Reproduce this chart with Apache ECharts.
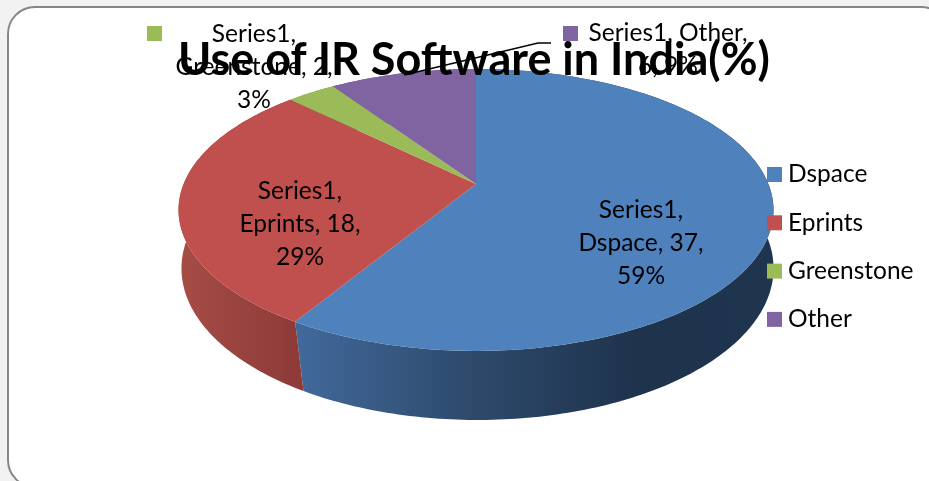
<!DOCTYPE html>
<html><head><meta charset="utf-8">
<style>html,body{margin:0;padding:0;background:#f2f2f2}#c{width:929px;height:481px}</style>
<script src="https://cdn.jsdelivr.net/npm/echarts@6/dist/echarts.min.js"></script>
</head><body><div id="c"></div>
<script>
const categories = ['Dspace', 'Eprints', 'Greenstone', 'Other'];
const values = [37, 18, 2, 6];
const percents = [59, 29, 3, 9];
const seriesName = 'Series1';
const colors = ['#4f81bd', '#c0504d', '#9bbb59', '#8064a2'];
const titleText = 'Use of IR Software in India(%)';

const FONT = 'Lato, "Open Sans", sans-serif';
const total = values.reduce((a, b) => a + b, 0);
const startOf = i => values.slice(0, i).reduce((a, b) => a + b, 0) / total * 2 * Math.PI;
const TOP = { cx: 476, cy: 184, A: 292.4, B: 136.2, k: 0.184 };
const BOT = { cx: 477.5, cy: 246.7, A: 293, B: 148.5, k: 0.143 };
function project(d, a) {
  const x = Math.sin(a), y = -Math.cos(a), w = 1 - d.k * y;
  return [d.cx + d.A * x / w, d.cy + d.B * y / w];
}
function arc(d, a0, a1) {
  const n = Math.max(2, Math.ceil((a1 - a0) / (Math.PI / 180)));
  const pts = [];
  for (let j = 0; j <= n; j++) pts.push(project(d, a0 + (a1 - a0) * j / n));
  return pts;
}
const wallFills = [
  { type: 'linear', global: true, x: 298, y: 0, x2: 770, y2: 0, colorStops: [
    { offset: 0, color: '#41699b' }, { offset: 0.36, color: '#2e4a6c' },
    { offset: 0.72, color: '#1e334c' }, { offset: 1, color: '#1f344e' }] },
  { type: 'linear', global: true, x: 182, y: 0, x2: 300, y2: 0, colorStops: [
    { offset: 0, color: '#a54c45' }, { offset: 1, color: '#8d3a38' }] },
  '#7a9249', '#634e7e'
];
const labelSpots = [
  { x: 641, y: 243, lines: i => [seriesName + ',', categories[i] + ', ' + values[i] + ',', percents[i] + '%'] },
  { x: 300, y: 224, lines: i => [seriesName + ',', categories[i] + ', ' + values[i] + ',', percents[i] + '%'] },
  { x: 254, y: 67, lines: i => [seriesName + ',', categories[i] + ', ' + values[i] + ',', percents[i] + '%'] },
  { x: 668, y: 50, lines: i => [seriesName + ', ' + categories[i] + ',', values[i] + ', ' + percents[i] + '%'] }
];

const wallSeries = {
  type: 'custom', name: 'walls', coordinateSystem: 'none', silent: true, z: 1,
  data: values.map((v, i) => [i, v]),
  renderItem(params, api) {
    const i = api.value(0);
    const a0 = startOf(i), a1 = a0 + api.value(1) / total * 2 * Math.PI;
    const t = arc(TOP, a0, a1), b = arc(BOT, a0, a1).reverse();
    return { type: 'polygon', shape: { points: t.concat(b) }, style: { fill: wallFills[i] } };
  }
};
const topSeries = categories.map((name, i) => ({
  type: 'custom', name, coordinateSystem: 'none', silent: true, z: 2,
  itemStyle: { color: colors[i] },
  data: [[values[i]]],
  renderItem(params, api) {
    const a0 = startOf(i), a1 = a0 + api.value(0) / total * 2 * Math.PI;
    const pts = [[TOP.cx, TOP.cy]].concat(arc(TOP, a0, a1));
    const spot = labelSpots[i];
    return {
      type: 'group',
      children: [
        { type: 'polygon', shape: { points: pts }, style: { fill: colors[i] } },
        { type: 'text', z2: 10, style: {
          x: spot.x, y: spot.y, text: spot.lines(i).join('\n'), fill: '#000',
          font: '24.5px ' + FONT, lineHeight: 33, align: 'center', verticalAlign: 'middle' } }
      ]
    };
  }
}));

const chart = echarts.init(document.getElementById('c'), null, { renderer: 'canvas' });
chart.setOption({
  animation: false,
  backgroundColor: '#f2f2f2',
  title: { text: titleText, left: 469, top: 33, textAlign: 'center', z: 100,
    textStyle: { fontFamily: FONT, fontSize: 45, fontWeight: 'bold', color: '#000' } },
  legend: {
    data: categories, orient: 'vertical', left: 762, top: 157, itemWidth: 15, itemHeight: 15, itemGap: 23.3,
    icon: 'rect', selectedMode: false, padding: 5,
    textStyle: { fontFamily: FONT, fontSize: 24.5, color: '#000', padding: [0, 0, 0, 1] }
  },
  graphic: { elements: [
    { type: 'rect', z: -10, silent: true, shape: { x: 8, y: 7, width: 940, height: 480, r: 27 },
      style: { fill: '#fff', stroke: '#868686', lineWidth: 2 } },
    { type: 'rect', z: 3, silent: true, shape: { x: 147, y: 26, width: 15, height: 15 }, style: { fill: colors[2] } },
    { type: 'rect', z: 3, silent: true, shape: { x: 563, y: 26, width: 15, height: 15 }, style: { fill: colors[3] } },
    { type: 'polyline', z: 3, silent: true, shape: { points: [[404, 75], [538, 43], [551, 43]] },
      style: { stroke: '#000', lineWidth: 1.5, fill: 'none' } }
  ] },
  series: [wallSeries].concat(topSeries)
});
</script></body></html>
